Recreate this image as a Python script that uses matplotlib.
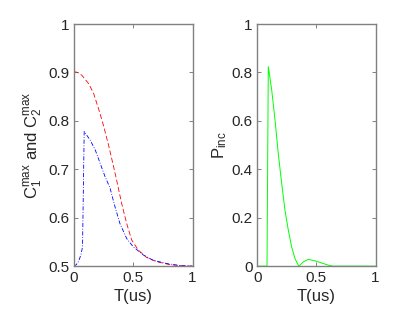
import numpy as np
import matplotlib
matplotlib.use("Agg")
import matplotlib.pyplot as plt

plt.rcParams["font.family"] = ["Liberation Sans", "DejaVu Sans"]
plt.rcParams["mathtext.fontset"] = "custom"
plt.rcParams["mathtext.rm"] = "Liberation Sans"
plt.rcParams["mathtext.it"] = "Liberation Sans"

# C1max / C2max curves (left panel)
t_red = [0.0, 0.03, 0.068, 0.124, 0.166, 0.208, 0.25, 0.293, 0.335, 0.36, 0.402,
         0.445, 0.487, 0.543, 0.613, 0.698, 0.81, 0.9, 1.0]
c_red = [0.902, 0.900, 0.894, 0.877, 0.857, 0.825, 0.79, 0.749, 0.705, 0.678, 0.630,
         0.588, 0.554, 0.533, 0.518, 0.509, 0.503, 0.501, 0.5]

t_blue = [0.0, 0.02, 0.04, 0.06, 0.073, 0.087, 0.138, 0.18, 0.222, 0.264, 0.304,
          0.346, 0.388, 0.445, 0.5, 0.585, 0.669, 0.79, 0.9, 1.0]
c_blue = [0.5, 0.503, 0.51, 0.524, 0.54, 0.778, 0.760, 0.740, 0.712, 0.684, 0.662,
          0.623, 0.588, 0.557, 0.54, 0.523, 0.512, 0.505, 0.501, 0.5]

# P_inc curve (right panel)
t_green = [0.0, 0.082, 0.093, 0.122, 0.150, 0.177, 0.206, 0.234, 0.262, 0.290, 0.318,
           0.346, 0.352, 0.39, 0.431, 0.487, 0.544, 0.600, 0.64, 1.0]
p_green = [0.0, 0.0, 0.824, 0.727, 0.603, 0.466, 0.342, 0.231, 0.149, 0.080, 0.032,
           0.004, 0.0, 0.018, 0.028, 0.022, 0.013, 0.004, 0.0, 0.0]

text_col = (0.15, 0.15, 0.15)
spine_col = (0.5, 0.5, 0.5)

fig = plt.figure(figsize=(4.15, 3.12), dpi=100)
ax1 = fig.add_axes([0.178, 0.147, 0.286, 0.776])
ax2 = fig.add_axes([0.620, 0.147, 0.285, 0.776])

ax1.plot(t_red, c_red, color="red", linestyle=(0, (6, 3)), lw=0.6)
ax1.plot(t_blue, c_blue, color="blue", linestyle=(0, (5, 2, 1, 2)), lw=0.6)
ax1.set_xlim(0, 1)
ax1.set_ylim(0.5, 1)
ax1.set_yticks([0.5, 0.6, 0.7, 0.8, 0.9, 1.0])
ax1.set_yticklabels(["0.5", "0.6", "0.7", "0.8", "0.9", "1"])
ax1.set_ylabel(r"$\mathregular{C_1^{max}}$ and $\mathregular{C_2^{max}}$", fontsize=12, labelpad=2)

ax2.plot(t_green, p_green, color=(0, 1, 0), lw=0.7)
ax2.set_xlim(0, 1)
ax2.set_ylim(0, 1)
ax2.set_yticks([0, 0.2, 0.4, 0.6, 0.8, 1.0])
ax2.set_yticklabels(["0", "0.2", "0.4", "0.6", "0.8", "1"])
ax2.set_ylabel(r"$\mathregular{P_{inc}}$", fontsize=12, labelpad=2)

for ax in (ax1, ax2):
    ax.set_xticks([0, 0.5, 1])
    ax.set_xticklabels(["0", "0.5", "1"])
    ax.set_xlabel("T(us)", fontsize=12, color=text_col, labelpad=3)
    ax.yaxis.label.set_color(text_col)
    ax.tick_params(direction="in", top=True, right=True, length=3, width=0.7,
                   color=spine_col, labelcolor=text_col, labelsize=11)
    for s in ax.spines.values():
        s.set_color(spine_col)
        s.set_linewidth(1.0)

fig.savefig("out.png", dpi=100)
